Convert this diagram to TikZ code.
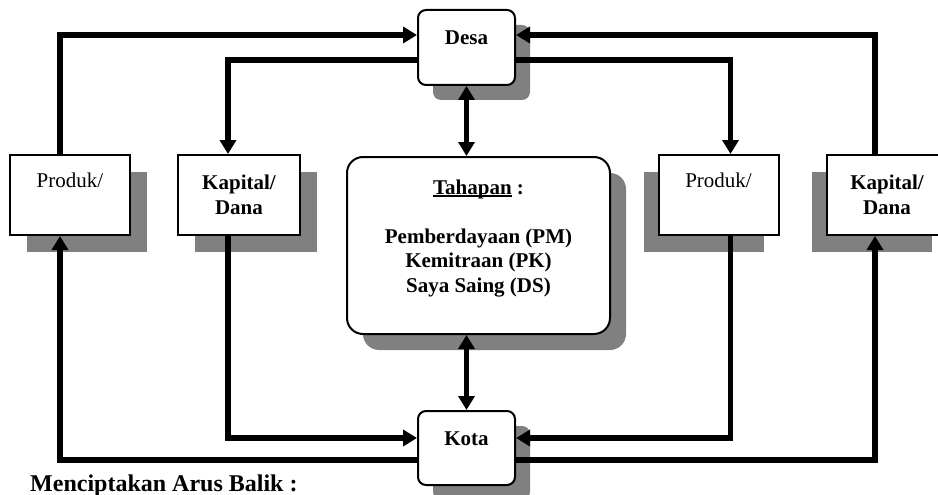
\documentclass[tikz,border=0pt]{standalone}
\usepackage{fontspec}
\setmainfont{Liberation Serif}
\usetikzlibrary{arrows.meta,shadows}
\definecolor{shade}{RGB}{128,128,128}
\newcommand{\ulword}[1]{\setbox0\hbox{#1}\rlap{\rule[-2.5pt]{\wd0}{1.1pt}}#1}
\tikzset{
  box/.style={draw,line width=2pt,fill=white,inner sep=0pt,align=center,
    font=\fontsize{21}{24.5}\selectfont},
  bold/.style={font=\fontsize{21}{24.5}\selectfont\bfseries},
  boxL/.style={box,minimum width=120pt,minimum height=80pt,
    drop shadow={shadow xshift=17pt,shadow yshift=-17pt,fill=shade,opacity=1}},
  boxR/.style={box,minimum width=120pt,minimum height=80pt,
    drop shadow={shadow xshift=-15pt,shadow yshift=-17pt,fill=shade,opacity=1}},
  place/.style={box,bold,rounded corners=8pt,minimum width=97pt,
    drop shadow={shadow xshift=15pt,shadow yshift=-15pt,fill=shade,opacity=1}},
  flow/.style={line width=5.5pt,-{Triangle[length=14pt,width=16pt]}},
  dflow/.style={line width=5.5pt,{Triangle[length=14pt,width=16pt]}-{Triangle[length=14pt,width=16pt]}}
}
\begin{document}
\begin{tikzpicture}[x=1pt,y=-1pt]
  \useasboundingbox (0,0) rectangle (938,495);
  \clip (0,0) rectangle (938,495);
  % desa and kota
  \node[place,minimum height=75pt,text height=35pt,text depth=40pt] (desa) at (466.5,47.5) {Desa};
  \node[place,minimum height=74pt,text height=34pt,text depth=40pt] (kota) at (466.5,448) {Kota};
  % tahapan
  \node[box,bold,rounded corners=16pt,minimum width=263pt,minimum height=177pt,
    text height=135pt,text depth=42pt,
    drop shadow={shadow xshift=16pt,shadow yshift=-16pt,fill=shade,opacity=1}] (tahap) at (478.5,245.5)
    {\ulword{Tahapan} :\\[24.5pt] Pemberdayaan (PM)\\ Kemitraan (PK)\\ Saya Saing (DS)};
  % produk and kapital
  \node[boxL,text height=32pt,text depth=48pt] (produkL) at (70,195) {Produk/};
  \node[boxL,bold,minimum width=122pt,text height=59pt,text depth=21pt] (kapitalL) at (239,195) {Kapital/\\ Dana};
  \node[boxR,text height=32pt,text depth=48pt] (produkR) at (718.5,195) {Produk/};
  \node[boxR,bold,text height=59pt,text depth=21pt] (kapitalR) at (887,195) {Kapital/\\ Dana};
  \node[bold,font=\fontsize{24}{28}\selectfont\bfseries,inner sep=0pt,anchor=base west] (arus) at (30,491) {Menciptakan Arus Balik :};

  \draw[flow] ([xshift=-10pt]produkL.north) |- ([yshift=12.5pt]desa.west);
  \draw[flow] ([yshift=-12.5pt]desa.west) -| ([xshift=-11pt]kapitalL.north);
  \draw[flow] ([xshift=-12pt]kapitalR.north) |- ([yshift=12.5pt]desa.east);
  \draw[flow] ([yshift=-12.5pt]desa.east) -| ([xshift=12pt]produkR.north);
  \draw[dflow] (desa.south) -- (desa.south |- tahap.north);
  \draw[dflow] (kota.north |- tahap.south) -- (kota.north);
  \draw[flow] ([yshift=-12pt]kota.west) -| ([xshift=-10pt]produkL.south);
  \draw[flow] ([xshift=-11pt]kapitalL.south) |- ([yshift=10pt]kota.west);
  \draw[flow] ([xshift=12pt]produkR.south) |- ([yshift=10pt]kota.east);
  \draw[flow] ([yshift=-12pt]kota.east) -| ([xshift=-12pt]kapitalR.south);
\end{tikzpicture}
\end{document}
